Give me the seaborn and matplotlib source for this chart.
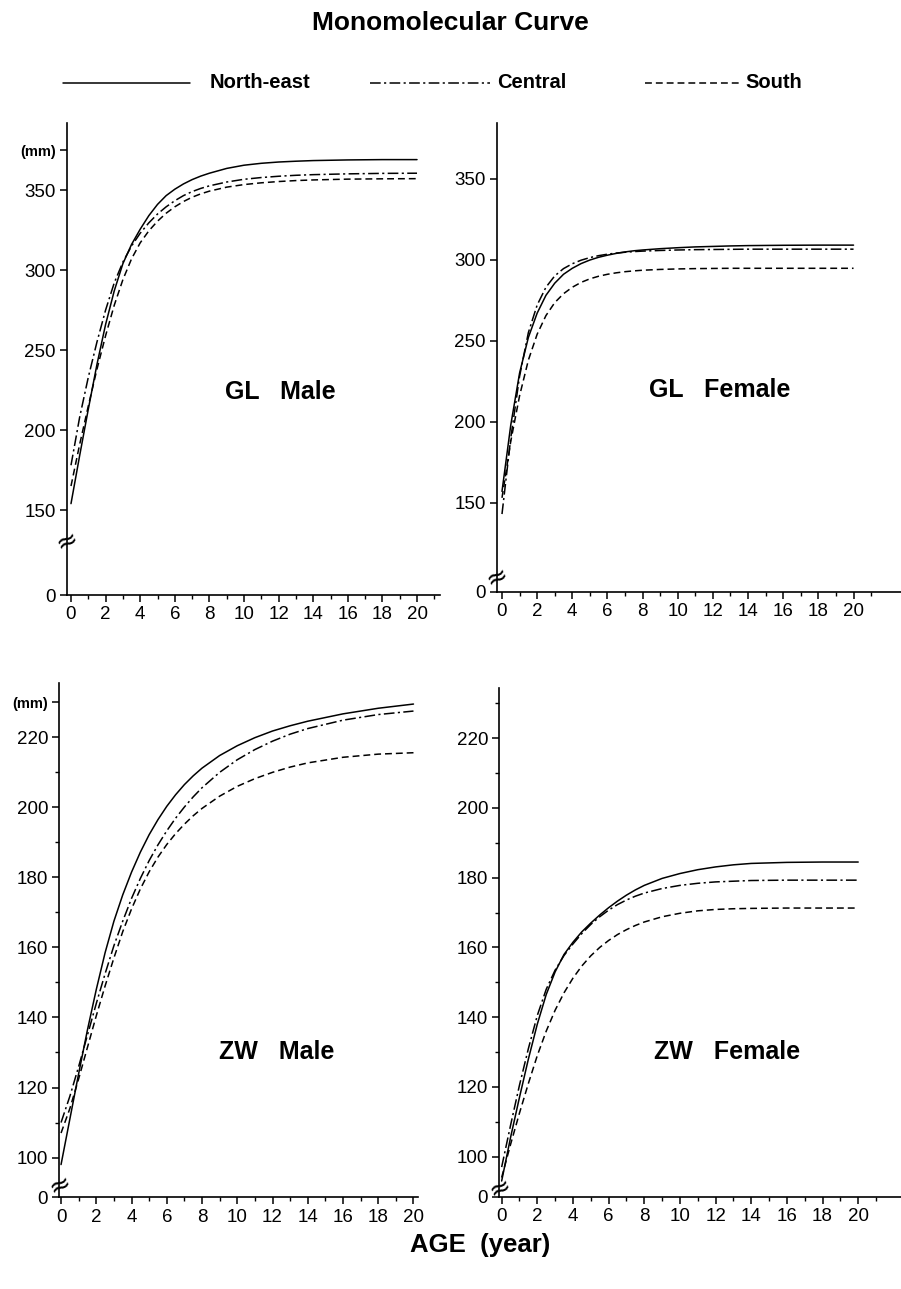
import numpy as np
import pandas as pd
import matplotlib
matplotlib.use("Agg")
import matplotlib.pyplot as plt
import matplotlib.transforms as mtransforms
from matplotlib.lines import Line2D
from matplotlib.ticker import FixedLocator
import seaborn as sns

# ---------------- data ----------------
AGES = [0, 0.5, 1, 1.5, 2, 2.5, 3, 3.5, 4, 4.5, 5, 5.5, 6, 6.5, 7, 7.5, 8, 9, 10, 11, 12, 13, 14, 16, 18, 20]
REGIONS = ["North-east", "Central", "South"]

GL_MALE_NE = [154, 184, 213, 241, 266, 287, 304, 316, 325.5, 334, 341, 346.5, 350.5, 353.8, 356.5, 358.7, 360.5, 363.5, 365.5, 366.7, 367.5, 368, 368.4, 368.8, 369, 369]
GL_MALE_C = [178, 208, 233, 255, 275, 292, 305, 315, 323, 329.5, 335, 339.5, 343.3, 346.5, 349, 351, 352.6, 355, 356.7, 357.8, 358.6, 359.2, 359.6, 360.1, 360.4, 360.5]
GL_MALE_S = [165, 191, 215, 238, 259, 278, 294, 307, 317, 324.5, 330.5, 335.5, 339.5, 342.8, 345.5, 347.6, 349.3, 351.8, 353.4, 354.5, 355.3, 355.9, 356.3, 356.8, 357, 357.1]

GL_FEMALE_NE = [157, 198, 230, 252, 267, 278, 285.5, 291, 294.7, 297.6, 299.8, 301.5, 302.8, 303.9, 304.8, 305.5, 306, 306.8, 307.4, 307.9, 308.2, 308.5, 308.7, 308.9, 309, 309]
GL_FEMALE_C = [143, 190, 228, 255, 272, 283, 290, 294.5, 297.5, 299.7, 301.3, 302.5, 303.4, 304.1, 304.6, 305, 305.3, 305.7, 306, 306.2, 306.3, 306.4, 306.5, 306.5, 306.5, 306.5]
GL_FEMALE_S = [153, 188, 216, 238, 254, 265.5, 273.5, 279, 283, 286, 288.2, 289.8, 291, 291.9, 292.6, 293.1, 293.5, 294, 294.3, 294.5, 294.6, 294.7, 294.7, 294.7, 294.7, 294.7]

ZW_MALE_NE = [98, 111, 124, 136.5, 148, 158.5, 167.5, 175, 181.5, 187.2, 192.2, 196.5, 200.3, 203.6, 206.5, 209, 211.2, 214.8, 217.6, 219.9, 221.8, 223.3, 224.6, 226.7, 228.3, 229.5]
ZW_MALE_C = [110, 117.5, 126, 135, 144, 152.5, 160.5, 167.5, 174, 179.7, 184.8, 189.3, 193.3, 196.9, 200.1, 203, 205.6, 210, 213.6, 216.5, 218.9, 220.9, 222.5, 224.9, 226.5, 227.5]
ZW_MALE_S = [107, 114, 122.5, 131.5, 140.5, 149, 157, 164.5, 171, 176.7, 181.6, 185.8, 189.4, 192.5, 195.2, 197.6, 199.7, 203.2, 206, 208.2, 210, 211.5, 212.7, 214.3, 215.2, 215.6]

ZW_FEMALE_NE = [93, 105.5, 117, 128, 138, 146.5, 153, 158, 161.5, 164.5, 167, 169.3, 171.4, 173.3, 175, 176.5, 177.8, 179.8, 181.2, 182.3, 183.1, 183.7, 184.1, 184.4, 184.5, 184.5]
ZW_FEMALE_C = [97, 109, 120.5, 131, 140.5, 148, 153.5, 157.7, 161, 164, 166.6, 168.8, 170.7, 172.3, 173.6, 174.7, 175.6, 176.9, 177.8, 178.4, 178.8, 179, 179.2, 179.3, 179.3, 179.3]
ZW_FEMALE_S = [94, 103.5, 112.5, 121, 129, 136, 142, 147, 151.2, 154.7, 157.6, 160, 162, 163.7, 165.1, 166.3, 167.3, 168.8, 169.8, 170.5, 170.9, 171.1, 171.2, 171.3, 171.3, 171.3]

GL_MALE_TICKS = [150, 200, 250, 300, 350]
GL_FEMALE_TICKS = [150, 200, 250, 300, 350]
ZW_TICKS = [100, 120, 140, 160, 180, 200, 220]
X_TICKS = [0, 2, 4, 6, 8, 10, 12, 14, 16, 18, 20]

# ---------------- style ----------------
sns.set_theme(style="ticks")
plt.rcParams['font.family'] = ['Liberation Sans', 'DejaVu Sans']
plt.rcParams['axes.linewidth'] = 1.2
plt.rcParams['text.color'] = 'black'
plt.rcParams['xtick.color'] = 'black'
plt.rcParams['ytick.color'] = 'black'
plt.rcParams['axes.edgecolor'] = 'black'

DASHES = {"North-east": "", "Central": (7, 2.2, 1.4, 2.2), "South": (4.5, 2.6)}

fig = plt.figure(figsize=(9.01, 12.89), dpi=100)

panels = [
    dict(ne=GL_MALE_NE, c=GL_MALE_C, s=GL_MALE_S,
         rect=[0.074, 0.5384, 0.4138, 0.3662], xlim=(-0.25, 21.3), ylim=(96.9, 391.9),
         ticks=GL_MALE_TICKS, minor_y=[], mm=375, brk=130.6, xminor_max=21),
    dict(ne=GL_FEMALE_NE, c=GL_FEMALE_C, s=GL_FEMALE_S,
         rect=[0.5513, 0.541, 0.4487, 0.3636], xlim=(-0.3, 22.7), ylim=(95.1, 384.4),
         ticks=GL_FEMALE_TICKS, minor_y=[], mm=None, brk=104, xminor_max=21),
    dict(ne=ZW_MALE_NE, c=ZW_MALE_C, s=ZW_MALE_S,
         rect=[0.0658, 0.071, 0.398, 0.3991], xlim=(-0.1, 20.25), ylim=(88.6, 235.5),
         ticks=ZW_TICKS, minor_y=[110, 130, 150, 170, 190, 210], mm=230, brk=92.2, xminor_max=19),
    dict(ne=ZW_FEMALE_NE, c=ZW_FEMALE_C, s=ZW_FEMALE_S,
         rect=[0.5542, 0.0716, 0.4458, 0.3946], xlim=(-0.13, 22.4), ylim=(88.5, 234.4),
         ticks=ZW_TICKS, minor_y=[110, 130, 150, 170, 190, 210, 230], mm=None, brk=91, xminor_max=21),
]

for p in panels:
    ax = fig.add_axes(p["rect"])
    n = len(AGES)
    assert len(p["ne"]) == n and len(p["c"]) == n and len(p["s"]) == n
    df = pd.DataFrame({
        "age": AGES * 3,
        "length": p["ne"] + p["c"] + p["s"],
        "region": [REGIONS[0]] * n + [REGIONS[1]] * n + [REGIONS[2]] * n,
    })
    sns.lineplot(data=df, x="age", y="length", style="region", style_order=REGIONS,
                 dashes=DASHES, color="black", linewidth=1.1, legend=False,
                 estimator=None, ax=ax)
    ax.set_xlim(*p["xlim"])
    ax.set_ylim(*p["ylim"])
    sns.despine(ax=ax)
    ax.set_xlabel("")
    ax.set_ylabel("")

    # y axis: "0" at the bottom of the broken axis
    ylo = p["ylim"][0]
    yt = [ylo] + p["ticks"]
    yl = ["0"] + [str(t) for t in p["ticks"]]
    if p["mm"] is not None:
        yt.append(p["mm"])
        yl.append("(mm)")
    ax.set_yticks(yt)
    ax.set_yticklabels(yl)
    if p["minor_y"]:
        ax.yaxis.set_minor_locator(FixedLocator(p["minor_y"]))

    ax.set_xticks(X_TICKS)
    ax.set_xticklabels([str(t) for t in X_TICKS])
    ax.xaxis.set_minor_locator(FixedLocator(list(range(1, p["xminor_max"] + 1, 2))))

    ax.tick_params(axis="both", which="major", direction="out", length=5, width=1.1,
                   labelsize=13.5, colors="black", pad=3)
    ax.tick_params(axis="both", which="minor", direction="out", length=3, width=1.0)
    if p["mm"] is not None:
        ax.get_yticklabels()[-1].set_fontsize(10.5)
        ax.get_yticklabels()[-1].set_fontweight("bold")

    # axis break mark
    trans = mtransforms.blended_transform_factory(ax.transAxes, ax.transData)
    ax.text(0, p["brk"], "≈", transform=trans, ha="center", va="center",
            fontsize=19, rotation=25, color="black", family="DejaVu Sans")

# panel labels
fig.text(0.311, 0.696, "GL   Male", ha="center", va="center", fontsize=18, fontweight="bold")
fig.text(0.799, 0.6975, "GL   Female", ha="center", va="center", fontsize=18, fontweight="bold")
fig.text(0.307, 0.184, "ZW   Male", ha="center", va="center", fontsize=18, fontweight="bold")
fig.text(0.807, 0.184, "ZW   Female", ha="center", va="center", fontsize=18, fontweight="bold")

# title and x label
fig.text(0.4994, 0.982, "Monomolecular Curve", ha="center", va="center", fontsize=19, fontweight="bold")
fig.text(0.533, 0.034, "AGE  (year)", ha="center", va="center", fontsize=18.5, fontweight="bold")

# legend drawn at the top
ly = 1 - 83 / 1289
W = 901.0
legend_items = [
    (63, 190, 210, "North-east"),
    (370, 490, 497, "Central"),
    (645, 740, 745, "South"),
]
for (x0, x1, xt, lab) in legend_items:
    ln = Line2D([x0 / W, x1 / W], [ly, ly], transform=fig.transFigure, color="black", linewidth=1.1)
    ln.set_dashes(DASHES[lab])
    fig.add_artist(ln)
    fig.text(xt / W, ly, lab, ha="left", va="center", fontsize=14.5, fontweight="bold")

fig.savefig("out.png", dpi=100)
